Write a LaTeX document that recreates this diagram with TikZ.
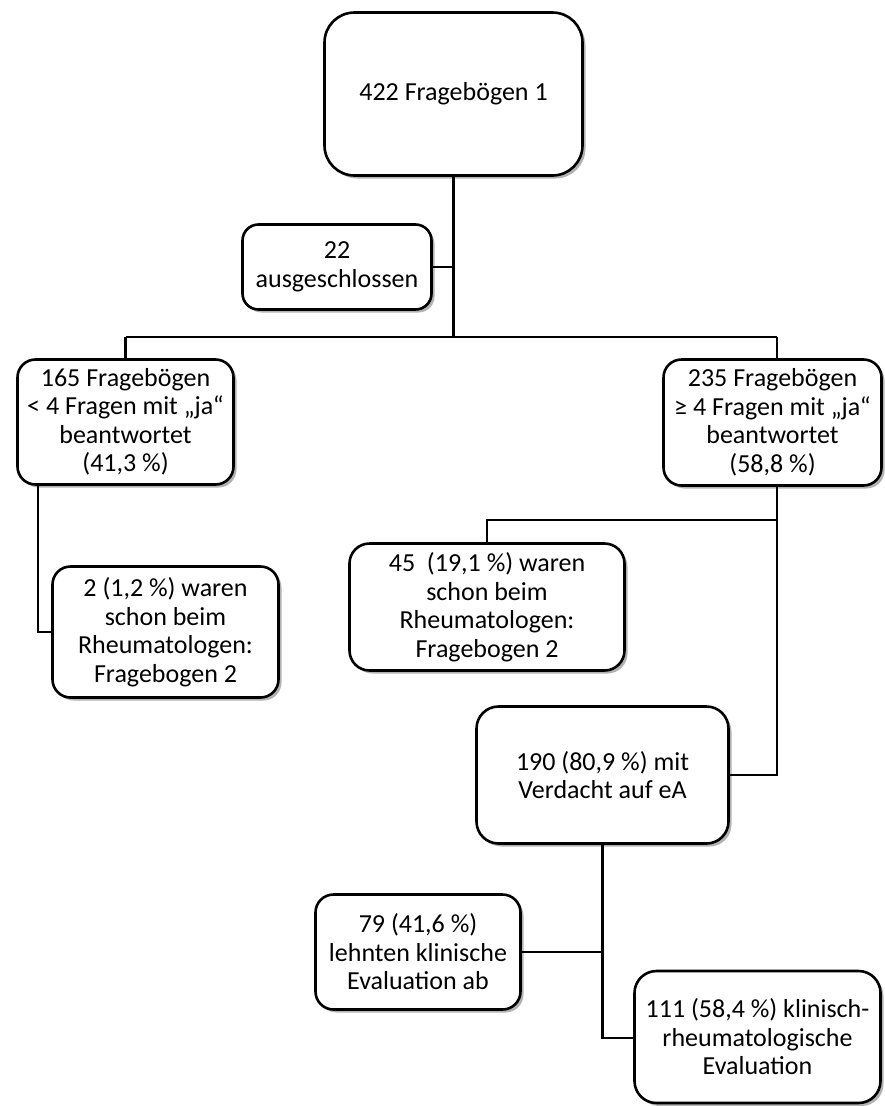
\documentclass[tikz,border=0pt]{standalone}
\usepackage{fontspec}
\setmainfont{Carlito}
\usetikzlibrary{shadows}
\tikzset{
  box/.style={draw, line width=2.6pt, rounded corners=#1, fill=white, align=center,
    inner sep=0pt, font=\fontsize{26pt}{28.5pt}\selectfont,
    drop shadow={shadow xshift=3pt, shadow yshift=-3pt, opacity=0.3, fill=black}},
  box/.default=18pt,
  conn/.style={draw, line width=2.4pt}
}
\begin{document}
\begin{tikzpicture}[x=1pt, y=-1pt]
\useasboundingbox (0,0) rectangle (885,1106);
\fill[white] (0,0) rectangle (885,1106);
% boxes
\node[box=30pt, minimum width=258pt, minimum height=163pt] (top) at (453.5,94) {422 Fragebögen 1};
\node[box=16pt, minimum width=189pt, minimum height=85pt] (excl) at (337,267) {22\\ausgeschlossen};
\node[box=18pt, minimum width=216pt, minimum height=125pt] (left) at (125.5,422) {165 Fragebögen\\< 4 Fragen mit „ja“\\beantwortet\\(41,3 \%)};
\node[box=18pt, minimum width=218pt, minimum height=126pt] (right) at (772.5,422.5) {235 Fragebögen\\≥ 4 Fragen mit „ja“\\beantwortet\\(58,8 \%)};
\node[box=18pt, minimum width=226pt, minimum height=131pt] (s2) at (165.5,632) {2 (1,2 \%) waren\\schon beim\\Rheumatologen:\\Fragebogen 2};
\node[box=20pt, minimum width=275pt, minimum height=127pt] (s45) at (487,607) {45~~(19,1 \%) waren\\schon beim\\Rheumatologen:\\Fragebogen 2};
\node[box=22pt, minimum width=252pt, minimum height=137pt] (v190) at (602.5,775) {190 (80,9 \%) mit\\Verdacht auf eA};
\node[box=18pt, minimum width=205pt, minimum height=115pt] (a79) at (418,952) {79 (41,6 \%)\\lehnten klinische\\Evaluation ab};
\node[box=22pt, minimum width=246pt, minimum height=132pt] (e111) at (757.5,1037) {111 (58,4 \%) klinisch-\\rheumatologische\\Evaluation};
% connector points
\coordinate (bj) at (453.5,337);
\coordinate (bl) at (125.5,337);
\coordinate (br) at (777,337);
\coordinate (lk) at (38,632);
\coordinate (rb) at (777,520);
\coordinate (rk) at (777,775);
\coordinate (bk) at (602.5,1038);
% connectors
\draw[conn] (top.south) -- (bj);
\draw[conn] (excl.east) -- (excl.east -| bj);
\draw[conn] (bl) -- (br);
\draw[conn] (bl) -- (bl |- left.north);
\draw[conn] (br) -- (br |- right.north);
\draw[conn] (lk |- left.south) -- (lk) -- (s2.west);
\draw[conn] (rk |- right.south) -- (rk) -- (v190.east);
\draw[conn] (rb) -- (rb -| s45.north) -- (s45.north);
\draw[conn] (v190.south) -- (bk) -- (bk -| e111.west);
\draw[conn] (a79.east) -- (a79.east -| bk);
\end{tikzpicture}
\end{document}
